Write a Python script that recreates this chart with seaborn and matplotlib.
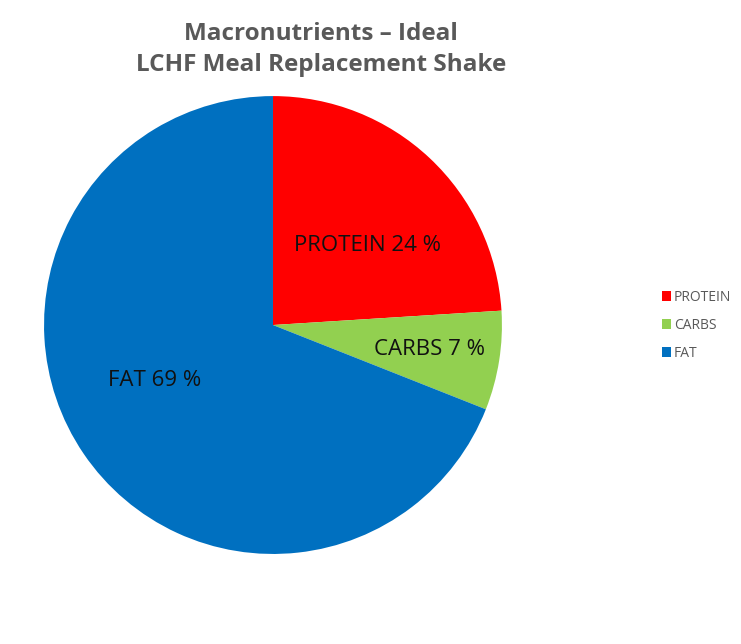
import numpy as np
import seaborn as sns
import matplotlib.pyplot as plt
from matplotlib.patches import Patch

# data
nutrients = ['PROTEIN', 'CARBS', 'FAT']
shares = [24, 7, 69]
colors = ['#FF0000', '#92D050', '#0070C0']

sns.set_theme(style='white')
plt.rcParams['font.family'] = ['Open Sans', 'DejaVu Sans']

fig = plt.figure(figsize=(7.41, 6.44), dpi=100)
ax = fig.add_axes([0.0594, 0.1398, 0.618, 0.711])

wedges, _ = ax.pie(shares, colors=colors, startangle=90, counterclock=False,
                   radius=1, wedgeprops={'linewidth': 0})
ax.set_xlim(-1, 1)
ax.set_ylim(-1, 1)
ax.set_aspect('equal')

# label placement inside each wedge (distance, angle shift)
label_place = [(0.54, -6.5), (0.69, 0), (0.57, -9)]
for w, name, val, (dist, shift) in zip(wedges, nutrients, shares, label_place):
    mid = np.deg2rad((w.theta1 + w.theta2) / 2 + shift)
    ax.text(dist * np.cos(mid), dist * np.sin(mid), f'{name} {val} %',
            ha='center', va='center', fontsize=16, color='#111111')

fig.text(0.433, 0.923, 'Macronutrients – Ideal\nLCHF Meal Replacement Shake',
         ha='center', va='center', fontsize=17.5, fontweight='bold',
         color='#595959', linespacing=1.42)

handles = [Patch(facecolor=c, edgecolor='none') for c in colors]
fig.legend(handles, nutrients, loc='center left', bbox_to_anchor=(0.876, 0.495),
           frameon=False, fontsize=10, labelcolor='#595959',
           handlelength=0.7, handleheight=0.7, handletextpad=0.2,
           labelspacing=0.95)

fig.savefig('out.png', dpi=100)
